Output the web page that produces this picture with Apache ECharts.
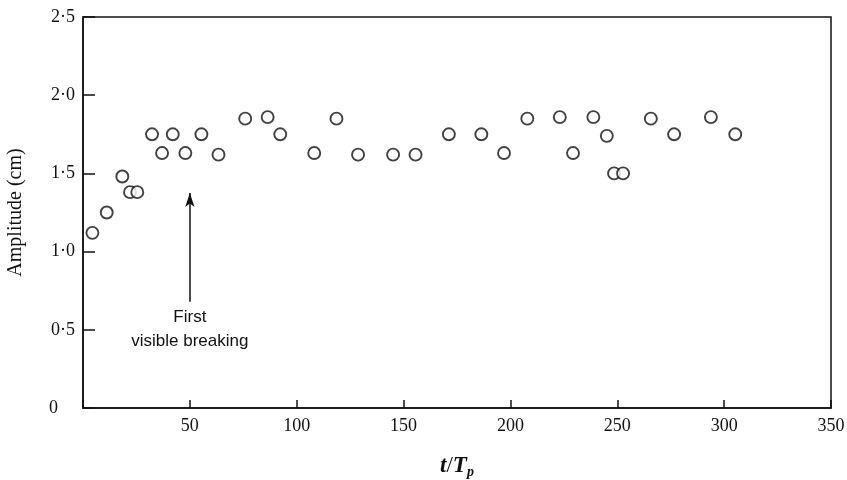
<!DOCTYPE html>
<html>
<head>
<meta charset="utf-8">
<script src="https://cdn.jsdelivr.net/npm/echarts@6/dist/echarts.min.js"></script>
<style>
  html, body { margin: 0; padding: 0; background: #fff; }
  #chart { width: 847px; height: 480px; }
</style>
</head>
<body>
<div id="chart"></div>
<script>
// t/Tp and amplitude (cm)
const tValues = [4.4, 11.1, 18.4, 22.0, 25.4, 32.3, 37.0, 42.0, 47.9, 55.4, 63.4,
  75.9, 86.4, 92.3, 108.2, 118.6, 128.7, 145.1, 155.6, 171.2, 186.4, 197.0,
  207.9, 223.1, 229.3, 238.8, 245.1, 248.5, 252.7, 265.7, 276.6, 293.8, 305.2]
const amplitude = [1.12, 1.25, 1.48, 1.38, 1.38, 1.75, 1.63, 1.75, 1.63, 1.75, 1.62,
  1.85, 1.86, 1.75, 1.63, 1.85, 1.62, 1.62, 1.62, 1.75, 1.75, 1.63,
  1.85, 1.86, 1.63, 1.86, 1.74, 1.50, 1.50, 1.85, 1.75, 1.86, 1.75]
const xTicks = [0, 50, 100, 150, 200, 250, 300, 350]
const yTicks = [0, 0.5, 1.0, 1.5, 2.0, 2.5]
const breakingAt = 50

const serif = '"Liberation Serif", "DejaVu Serif", serif'
const sans = '"Liberation Sans", "DejaVu Sans", sans-serif'
const points = tValues.map((t, i) => [t, amplitude[i]])

const chart = echarts.init(document.getElementById('chart'))
chart.setOption({
  animation: false,
  backgroundColor: '#fff',
  grid: { left: 83, right: 16, top: 17, bottom: 72, outerBoundsMode: 'none',
    show: true, borderColor: '#111', borderWidth: 1.5 },
  xAxis: {
    type: 'value', min: xTicks[0], max: xTicks[xTicks.length - 1], interval: 50,
    name: '{i|t}/{i|T}{s|p}', nameLocation: 'middle', nameGap: 45,
    nameTextStyle: { fontFamily: serif, fontSize: 23, color: '#111',
      rich: { i: { fontFamily: serif, fontStyle: 'italic', fontWeight: 'bold', fontSize: 23, color: '#111' },
              s: { fontFamily: serif, fontStyle: 'italic', fontWeight: 'bold', fontSize: 14, color: '#111', padding: [12, 0, 0, 0] } } },
    axisLine: { lineStyle: { color: '#111', width: 1.5 } },
    axisTick: { inside: true, length: 8, lineStyle: { color: '#111', width: 1.5 } },
    axisLabel: { fontFamily: serif, fontSize: 18, color: '#111', margin: 9,
      formatter: v => v === 0 ? '' : String(v) },
    splitLine: { show: false }
  },
  yAxis: {
    type: 'value', min: yTicks[0], max: yTicks[yTicks.length - 1], interval: 0.5,
    name: 'Amplitude (cm)', nameLocation: 'middle', nameGap: 57,
    nameTextStyle: { fontFamily: serif, fontSize: 20, color: '#111' },
    axisLine: { lineStyle: { color: '#111', width: 1.5 } },
    axisTick: { inside: true, length: 12, lineStyle: { color: '#111', width: 1.5 } },
    axisLabel: { fontFamily: serif, fontSize: 18, color: '#111', margin: 8,
      formatter: v => v === 0 ? '{z|0}' : v.toFixed(1).replace('.', '·'),
      rich: { z: { fontFamily: serif, fontSize: 18, color: '#111', padding: [0, 17, 0, 0] } } },
    splitLine: { show: false }
  },
  series: [{
    type: 'scatter',
    data: points,
    symbol: 'circle',
    symbolSize: 12,
    itemStyle: { color: '#fff', borderColor: '#111', borderWidth: 1.9 },
    markLine: {
      silent: true,
      symbol: ['none', 'arrow'],
      symbolSize: [7, 14],
      lineStyle: { color: '#111', width: 1.5, type: 'solid' },
      label: { show: false },
      data: [[{ coord: [breakingAt, 0.68] }, { coord: [breakingAt, 1.375] }]]
    },
    markPoint: {
      silent: true,
      symbol: 'circle', symbolSize: 0,
      label: { show: true, position: 'inside', formatter: 'First\nvisible breaking',
        fontFamily: sans, fontSize: 17, lineHeight: 24, color: '#111', align: 'center' },
      data: [{ coord: [breakingAt, 0.5] }]
    }
  }]
})
</script>
</body>
</html>
